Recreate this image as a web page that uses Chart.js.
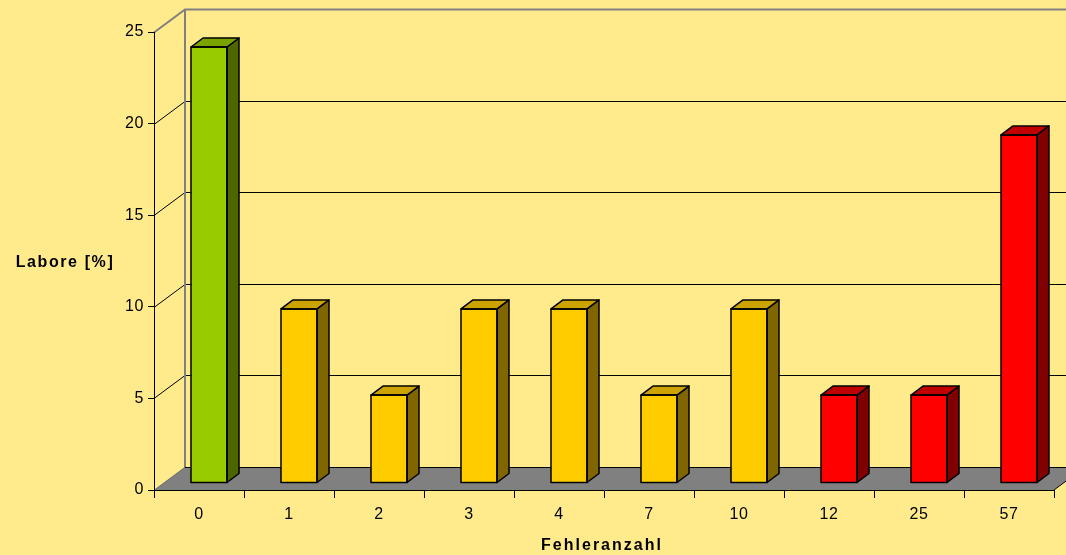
<!DOCTYPE html>
<html>
<head>
<meta charset="utf-8">
<script src="https://cdn.jsdelivr.net/npm/chart.js@4.4.1/dist/chart.umd.min.js"></script>
<style>
  html, body { margin: 0; padding: 0; background: #ffeb8c; }
  #wrap { width: 1066px; height: 555px; }
</style>
</head>
<body>
<div id="wrap"><canvas id="barChart" width="1066" height="555"></canvas></div>
<script>
// Fehleranzahl je Labor, Anteil der Labore in Prozent (21 Labore)
const categories = ['0', '1', '2', '3', '4', '7', '10', '12', '25', '57'];
const laborePercent = [23.8, 9.5, 4.8, 9.5, 9.5, 4.8, 9.5, 4.8, 4.8, 19.0];
const yTicks = [0, 5, 10, 15, 20, 25];

// front / top / side colour per bar group
const faceColors = ['#99cc00', '#ffcc00', '#ffcc00', '#ffcc00', '#ffcc00', '#ffcc00', '#ffcc00', '#ff0000', '#ff0000', '#ff0000'];
const topColors  = ['#7aa300', '#cca300', '#cca300', '#cca300', '#cca300', '#cca300', '#cca300', '#c00000', '#c00000', '#c00000'];
const sideColors = ['#4d6600', '#806600', '#806600', '#806600', '#806600', '#806600', '#806600', '#800000', '#800000', '#800000'];

const FONT = 'Arial, "Liberation Sans", sans-serif';
const wallDx = 31, wallDy = -23;   // depth of the chart box
const barDx = 12, barDy = -9;      // depth of a single bar
const shiftX = 10, shiftY = -7;    // bars sit a bit inside the floor

const box3d = {
    id: 'box3d',
    beforeDraw(chart) {
        const ctx = chart.ctx;
        const a = chart.chartArea;
        const y = chart.scales.y;
        ctx.letterSpacing = '0.6px';
        ctx.save();
        // floor
        ctx.fillStyle = '#808080';
        ctx.beginPath();
        ctx.moveTo(a.left, a.bottom);
        ctx.lineTo(a.right, a.bottom);
        ctx.lineTo(a.right + wallDx, a.bottom + wallDy);
        ctx.lineTo(a.left + wallDx, a.bottom + wallDy);
        ctx.closePath();
        ctx.fill();
        ctx.lineWidth = 1;
        ctx.strokeStyle = '#6e6e6e';
        ctx.beginPath();
        ctx.moveTo(a.left + 0.5, a.bottom);
        ctx.lineTo(a.left + wallDx + 0.5, a.bottom + wallDy);
        ctx.stroke();
        ctx.strokeStyle = '#000';
        ctx.beginPath();
        ctx.moveTo(a.right, a.bottom);
        ctx.lineTo(a.right + wallDx, a.bottom + wallDy);
        ctx.stroke();
        // back wall gridlines with the side-wall diagonals
        yTicks.forEach(v => {
            const py = Math.round(y.getPixelForValue(v)) + 0.5;
            const last = v === yTicks[yTicks.length - 1];
            ctx.strokeStyle = last ? '#808080' : '#000';
            ctx.lineWidth = last ? 2 : 1;
            ctx.beginPath();
            if (v !== 0) ctx.moveTo(a.left, py);
            else ctx.moveTo(a.left + wallDx, py + wallDy);
            ctx.lineTo(a.left + wallDx, py + wallDy);
            ctx.lineTo(chart.width + 5, py + wallDy);
            ctx.stroke();
        });
        // back wall left edge
        ctx.strokeStyle = '#808080';
        ctx.lineWidth = 2;
        ctx.beginPath();
        ctx.moveTo(a.left + wallDx, a.top + wallDy);
        ctx.lineTo(a.left + wallDx, a.bottom + wallDy);
        ctx.stroke();
        ctx.restore();
    },
    beforeDatasetsDraw(chart) {
        chart.ctx.save();
        chart.ctx.translate(shiftX, shiftY);
    },
    afterDatasetsDraw(chart) {
        const ctx = chart.ctx;
        const bars = chart.getDatasetMeta(0).data;
        ctx.lineWidth = 1.5;
        ctx.strokeStyle = '#000';
        ctx.lineJoin = 'round';
        bars.forEach((bar, i) => {
            const l = bar.x - bar.width / 2, r = bar.x + bar.width / 2;
            const t = bar.y, b = bar.base;
            // side
            ctx.fillStyle = sideColors[i];
            ctx.beginPath();
            ctx.moveTo(r, t);
            ctx.lineTo(r + barDx, t + barDy);
            ctx.lineTo(r + barDx, b + barDy);
            ctx.lineTo(r, b);
            ctx.closePath();
            ctx.fill();
            ctx.stroke();
            // top
            ctx.fillStyle = topColors[i];
            ctx.beginPath();
            ctx.moveTo(l, t);
            ctx.lineTo(l + barDx, t + barDy);
            ctx.lineTo(r + barDx, t + barDy);
            ctx.lineTo(r, t);
            ctx.closePath();
            ctx.fill();
            ctx.stroke();
            // front outline
            ctx.strokeRect(l, t, r - l, b - t);
        });
        ctx.restore();
    },
    afterDraw(chart) {
        const ctx = chart.ctx;
        const a = chart.chartArea;
        ctx.save();
        ctx.fillStyle = '#000';
        ctx.font = 'bold 16px ' + FONT;
        ctx.letterSpacing = '1.6px';
        ctx.textAlign = 'center';
        ctx.textBaseline = 'middle';
        ctx.fillText('Labore [%]', 65, 263);
        ctx.letterSpacing = '2px';
        ctx.fillText('Fehleranzahl', (a.left + a.right) / 2 - 2, 546);
        ctx.restore();
    }
};

new Chart(document.getElementById('barChart'), {
    type: 'bar',
    data: {
        labels: categories,
        datasets: [{
            data: laborePercent,
            backgroundColor: faceColors,
            borderColor: '#000',
            borderWidth: 0,
            categoryPercentage: 0.4,
            barPercentage: 1,
            clip: false
        }]
    },
    options: {
        responsive: false,
        animation: false,
        layout: { padding: { top: 32, right: 12, left: 0, bottom: 0 } },
        plugins: { legend: { display: false }, tooltip: { enabled: false } },
        scales: {
            x: {
                offset: true,
                afterFit: s => { s.height = 65; },
                grid: { offset: true, drawOnChartArea: false, tickLength: 8, color: '#000' },
                border: { color: '#000', width: 1 },
                ticks: { color: '#000', font: { family: FONT, size: 16 }, padding: 7 }
            },
            y: {
                min: 0,
                max: 25,
                afterFit: s => { s.width = 154; },
                afterBuildTicks: s => { s.ticks = yTicks.map(v => ({ value: v })); },
                grid: { drawOnChartArea: false, tickLength: 6, color: '#000' },
                border: { color: '#000', width: 1 },
                ticks: { color: '#000', font: { family: FONT, size: 16 }, padding: 4 }
            }
        }
    },
    plugins: [box3d]
});
</script>
</body>
</html>
